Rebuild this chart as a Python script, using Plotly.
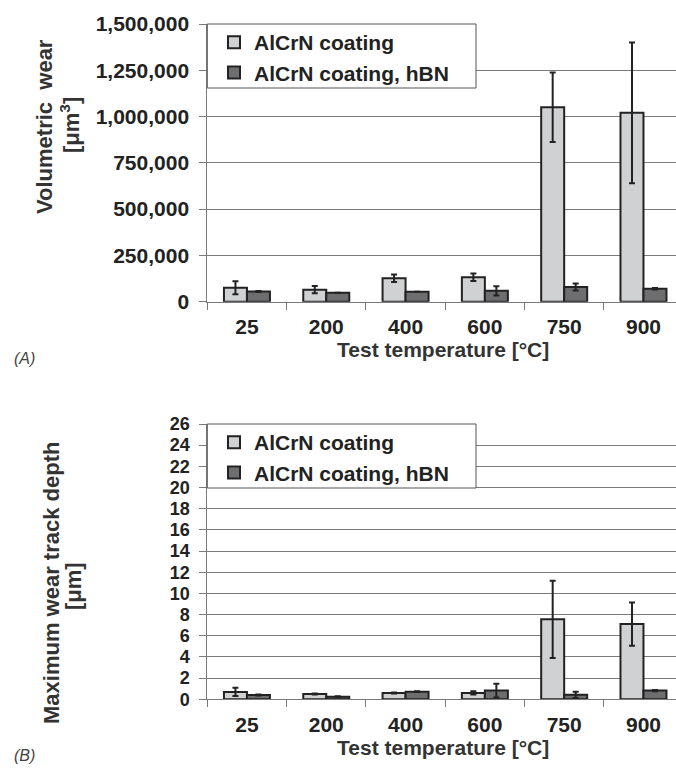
import plotly.graph_objects as go

temps = ["25", "200", "400", "600", "750", "900"]
series_names = ["AlCrN coating", "AlCrN coating, hBN"]

vol_plain = [75000, 65000, 127000, 132000, 1050000, 1020000]
vol_plain_err = [35000, 20000, 20000, 20000, 188000, 380000]
vol_hbn = [55000, 48000, 54000, 59000, 79000, 70000]
vol_hbn_err = [3000, 0, 0, 25000, 19000, 4000]

depth_plain = [0.7, 0.5, 0.6, 0.6, 7.55, 7.1]
depth_plain_err = [0.4, 0.05, 0.05, 0.15, 3.65, 2.05]
depth_hbn = [0.4, 0.25, 0.72, 0.82, 0.42, 0.82]
depth_hbn_err = [0.05, 0.03, 0.03, 0.65, 0.3, 0.05]

W, H = 676, 771
LIGHT = "#d0d1d3"
DARK = "#6e6e70"
EDGE = "#222222"
GRID = "#7a7a7a"
FONT = "Liberation Sans, Arial, sans-serif"
TXT = "#222222"

def py(px):
    return 1 - px / H

fig = go.Figure()

def add(x, y, err, name, color, xa, ya, leg, grp):
    fig.add_trace(go.Bar(
        x=x, y=y, name=name, xaxis=xa, yaxis=ya, legend=leg, legendgroup=grp,
        marker=dict(color=color, line=dict(color=EDGE, width=2)),
        error_y=dict(type="data", array=err, visible=True, color=EDGE, thickness=2, width=3),
    ))

add(temps, vol_plain, vol_plain_err, series_names[0], LIGHT, "x", "y", "legend", "a1")
add(temps, vol_hbn, vol_hbn_err, series_names[1], DARK, "x", "y", "legend", "a2")
add(temps, depth_plain, depth_plain_err, series_names[0], LIGHT, "x2", "y2", "legend2", "b1")
add(temps, depth_hbn, depth_hbn_err, series_names[1], DARK, "x2", "y2", "legend2", "b2")

xdom = [207.3 / W, 1.0]
xr = [-0.5, 5.41]
common_x = dict(
    type="category", range=xr, domain=xdom, showgrid=False, showline=True, linecolor=GRID, linewidth=1,
    ticks="outside", tickson="boundaries", ticklen=7, tickcolor=GRID, tickwidth=1, automargin=False,
    tickfont=dict(family=FONT, size=21, color=TXT, weight="bold"), ticklabelstandoff=6, zeroline=False,
)
common_y = dict(
    showgrid=True, gridcolor=GRID, gridwidth=1, showline=True, linecolor=GRID, linewidth=1,
    ticks="outside", ticklen=7, tickcolor=GRID, tickwidth=1, zeroline=False, automargin=False,
    ticklabelstandoff=6,
)

legend_common = dict(
    xanchor="left", yanchor="top", bgcolor="rgba(0,0,0,0)", borderwidth=0,
    font=dict(family=FONT, size=21, color=TXT, weight="bold"), traceorder="grouped",
    tracegroupgap=0, itemwidth=30,
)

fig.update_layout(
    width=W, height=H, margin=dict(l=0, r=0, t=0, b=0, autoexpand=False),
    paper_bgcolor="white", plot_bgcolor="white",
    barmode="group", bargap=0.42, bargroupgap=0,
    xaxis=dict(common_x, anchor="y"),
    yaxis=dict(common_y, domain=[py(301.7), py(24)], range=[0, 1500000], dtick=250000,
               tickformat=",d", anchor="x",
               tickfont=dict(family=FONT, size=21, color=TXT, weight="bold")),
    xaxis2=dict(common_x, anchor="y2"),
    yaxis2=dict(common_y, domain=[py(699.3), py(424)], range=[0, 26], dtick=2, anchor="x2",
                tickfont=dict(family=FONT, size=18, color=TXT, weight="bold")),
    legend=dict(legend_common, x=214 / W, y=py(22)),
    legend2=dict(legend_common, x=214 / W, y=py(422)),
    showlegend=True,
)

# legend frames
for top, bot in [(24, 88), (424, 488)]:
    fig.add_shape(type="rect", xref="paper", yref="paper", x0=207.3 / W, x1=476 / W,
                  y0=py(bot), y1=py(top), fillcolor="white", line=dict(color="#555555", width=1),
                  layer="above")

ann_font = dict(family=FONT, size=22, color="#333333", weight="bold")
anns = [
    dict(text="Volumetric  wear", x=45 / W, y=py(127), textangle=-90),
    dict(text="[μm<sup>3</sup>]", x=70 / W, y=py(125), textangle=-90),
    dict(text="Maximum wear track depth", x=51 / W, y=py(583), textangle=-90),
    dict(text="[μm]", x=73 / W, y=py(586), textangle=-90),
    dict(text="Test temperature [°C]", x=443 / W, y=py(350), textangle=0),
    dict(text="Test temperature [°C]", x=443 / W, y=py(747), textangle=0),
]
for a in anns:
    f = dict(ann_font)
    if a["textangle"] == 0:
        f["size"] = 21
    fig.add_annotation(xref="paper", yref="paper", x=a["x"], y=a["y"], text=a["text"],
                       textangle=a["textangle"], showarrow=False, xanchor="center",
                       yanchor="middle", font=f)

for lbl, yy in [("(A)", 358), ("(B)", 755)]:
    fig.add_annotation(xref="paper", yref="paper", x=12 / W, y=py(yy), text=f"<i>{lbl}</i>",
                       showarrow=False, xanchor="left", yanchor="middle",
                       font=dict(family=FONT, size=16, color="#444444"))

fig.write_html("out.html")
